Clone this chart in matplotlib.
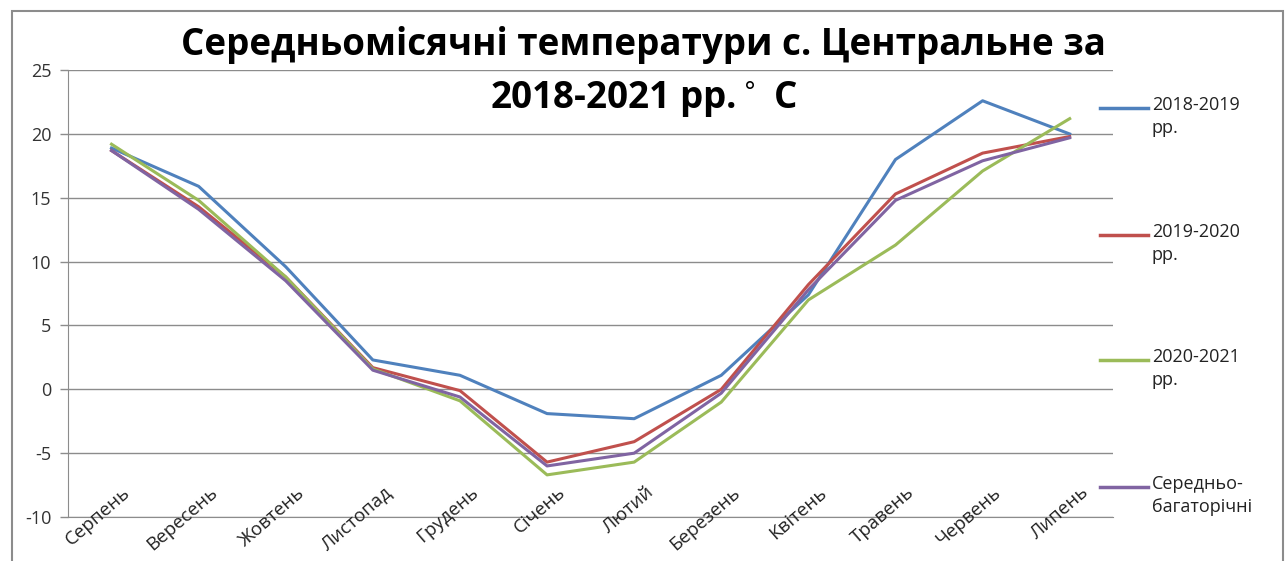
import matplotlib.pyplot as plt
from matplotlib.patches import Rectangle
from matplotlib.lines import Line2D
from matplotlib.transforms import blended_transform_factory

plt.rcParams['font.family'] = ['Open Sans', 'DejaVu Sans']
plt.rcParams['axes.unicode_minus'] = False

months = ['Серпень', 'Вересень', 'Жовтень', 'Листопад', 'Грудень', 'Січень',
          'Лютий', 'Березень', 'Квітень', 'Травень', 'Червень', 'Липень']

t_2018_2019 = [18.9, 15.9, 9.6, 2.3, 1.1, -1.9, -2.3, 1.1, 7.4, 18.0, 22.6, 20.0]
t_2019_2020 = [18.7, 14.3, 8.8, 1.7, -0.1, -5.7, -4.1, 0.0, 8.2, 15.3, 18.5, 19.8]
t_2020_2021 = [19.2, 14.8, 8.8, 1.6, -0.9, -6.7, -5.7, -1.0, 7.0, 11.3, 17.1, 21.2]
t_average = [18.7, 14.1, 8.5, 1.5, -0.6, -6.0, -5.0, -0.3, 7.8, 14.8, 17.9, 19.7]

series = [
    ('2018-2019\nрр.', t_2018_2019, '#4F81BD'),
    ('2019-2020\nрр.', t_2019_2020, '#C0504D'),
    ('2020-2021\nрр.', t_2020_2021, '#9BBB59'),
    ('Середньо-\nбагаторічні', t_average, '#8064A2'),
]

fig = plt.figure(figsize=(12.87, 5.61), dpi=100)
ax = fig.add_axes([0.0528, 0.0784, 0.8122, 0.7966])

x = list(range(len(months)))
for label, vals, col in series:
    ax.plot(x, vals, color=col, lw=2.2, zorder=3)

ax.set_xlim(-0.5, len(months) - 0.5)
ax.set_ylim(-10, 25)
ax.set_yticks(range(-10, 26, 5))
ax.yaxis.grid(True, color='#8c8c8c', lw=1)
ax.set_axisbelow(True)
for s in ['top', 'right']:
    ax.spines[s].set_visible(False)
for s in ['left', 'bottom']:
    ax.spines[s].set_color('#8c8c8c')
ax.tick_params(axis='y', labelsize=13, colors='#8c8c8c', labelcolor='#333333',
               length=6, width=1, pad=6)
ax.set_xticks([])

# month labels sit across the bottom axis line
trans = blended_transform_factory(ax.transData, ax.transAxes)
for i, m in enumerate(months):
    ax.text(i + 0.12, 0.075, m, transform=trans, rotation=41, ha='right', va='top',
            rotation_mode='anchor', fontsize=13.5, color='#222222', clip_on=False)

fig.text(0.5, 0.92, 'Середньомісячні температури с. Центральне за',
         ha='center', va='center', fontsize=26.5, fontweight='bold')
fig.text(0.5, 0.822, '2018-2021 рр.$^\\circ$ С',
         ha='center', va='center', fontsize=26.5, fontweight='bold')

# legend drawn by hand: handle lines up with the first text line
leg_y = [0.8075, 0.581, 0.358, 0.132]
for (label, vals, col), yy in zip(series, leg_y):
    fig.add_artist(Line2D([0.855, 0.892], [yy, yy], color=col, lw=2.5,
                          transform=fig.transFigure))
    fig.text(0.895, yy + 0.022, label, ha='left', va='top', fontsize=13,
             color='#222222', linespacing=1.35)

fig.patches.append(Rectangle((0.009, -0.01), 0.988, 0.99, transform=fig.transFigure,
                             fill=False, edgecolor='#8c8c8c', lw=1.5))

fig.savefig('out.png', dpi=100)
